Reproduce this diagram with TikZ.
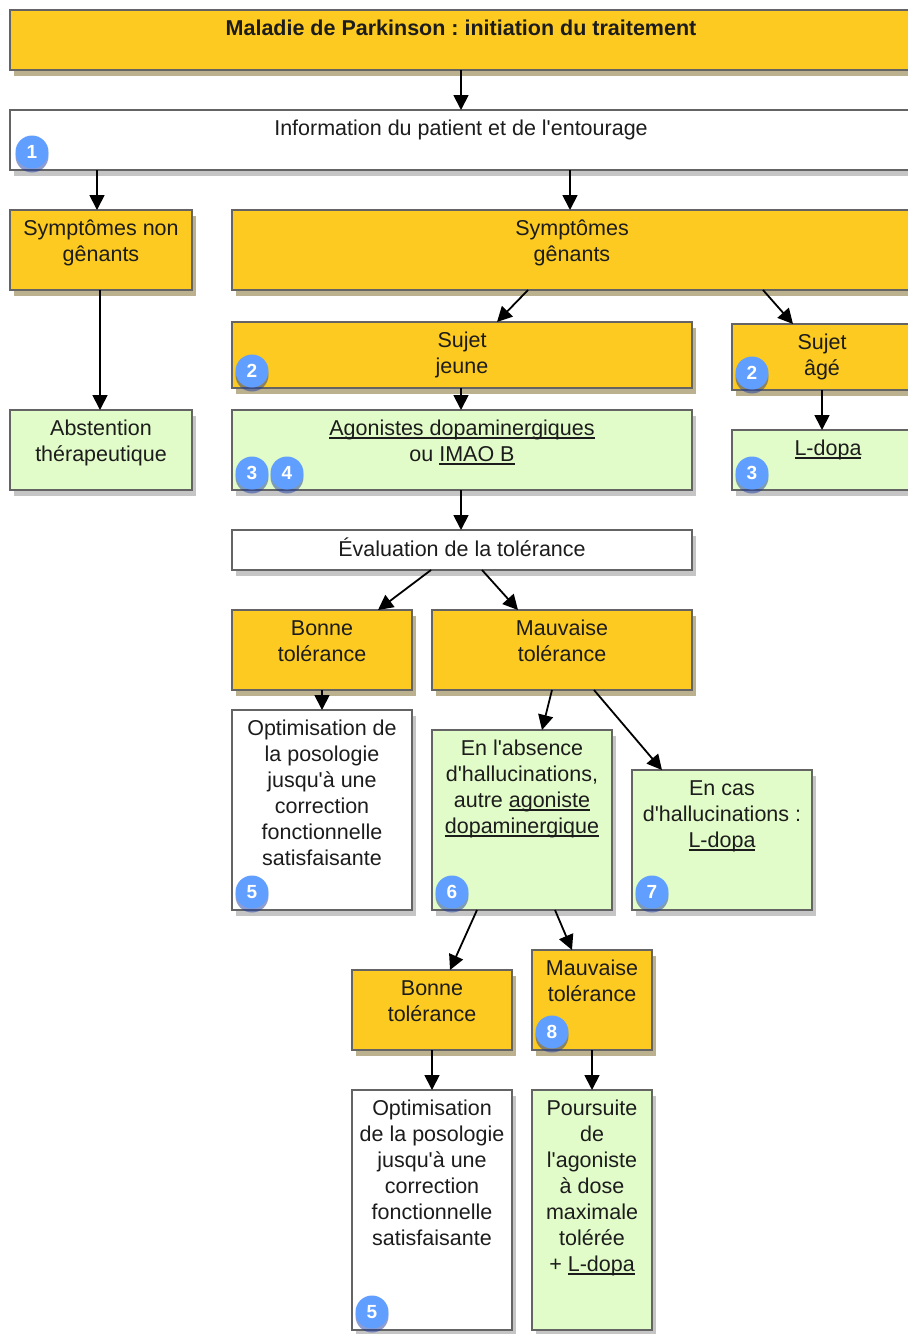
\documentclass[tikz,border=0pt]{standalone}
\usepackage{fontspec}
\setmainfont{Liberation Sans}
\newfontfamily\lsans{Liberation Sans}
\usetikzlibrary{arrows.meta,shadows}
\frenchspacing
\definecolor{yelc}{RGB}{252,202,32}
\definecolor{grnc}{RGB}{225,252,200}
\definecolor{bordc}{RGB}{100,100,100}
\definecolor{txtc}{RGB}{28,28,28}
\definecolor{badgec}{RGB}{96,158,255}
\definecolor{yshad}{RGB}{120,100,30}
\definecolor{gshad}{RGB}{110,110,110}
\definecolor{bshad}{RGB}{30,60,160}
\newcommand\ulnk[1]{\setbox0=\hbox{#1}\rlap{\rule[-3pt]{\wd0}{1.3pt}}\box0}
\tikzset{
  base/.style={draw=bordc, line width=1.8pt, anchor=north west, inner sep=0pt, outer sep=0pt},
  ybox/.style={base, fill=yelc, drop shadow={shadow xshift=4pt, shadow yshift=-6pt, opacity=0.5, fill=yshad}},
  gbox/.style={base, fill=grnc, drop shadow={shadow xshift=4pt, shadow yshift=-6pt, opacity=0.4, fill=gshad}},
  wbox/.style={base, fill=white, drop shadow={shadow xshift=4pt, shadow yshift=-6pt, opacity=0.4, fill=gshad}},
  lab/.style={anchor=north, yshift=-7.3pt, inner sep=0pt, align=center, text=txtc, font=\lsans\fontsize{21.5}{26}\selectfont\frenchspacing},
  badge/.style={circle, fill=badgec, text=white, inner sep=0pt, minimum size=33pt, font=\lsans\fontsize{19}{22}\selectfont\bfseries, drop shadow={shadow xshift=0pt, shadow yshift=-4pt, opacity=0.5, fill=bshad}},
  arr/.style={line width=1.8pt, draw=black, -{Triangle[width=15pt,length=15pt]}}
}
\begin{document}
\begin{tikzpicture}[x=1pt,y=-1pt]
\path[use as bounding box] (0,0) rectangle (908,1334);
\fill[white] (0,0) rectangle (908,1334);
\clip (0,0) rectangle (908,1334);

% boxes
\node[ybox, minimum width=902, minimum height=60, label={[lab]north:{\strut\textbf{Maladie de Parkinson : initiation du traitement}}}] (title) at (10,10) {};
\node[wbox, minimum width=902, minimum height=60, label={[lab]north:{\strut Information du patient et de l'entourage}}] (info) at (10,110) {};
\node[ybox, minimum width=182, minimum height=80, label={[lab]north:{\strut Symptômes non\\gênants}}] (sng) at (10,210) {};
\node[ybox, minimum width=680, minimum height=80, label={[lab]north:{\strut Symptômes\\gênants}}] (sg) at (232,210) {};
\node[gbox, minimum width=182, minimum height=80, label={[lab]north:{\strut Abstention\\thérapeutique}}] (abst) at (10,410) {};
\node[ybox, minimum width=460, minimum height=66, label={[lab]north:{\strut Sujet\\jeune}}] (sj) at (232,322) {};
\node[ybox, minimum width=180, minimum height=66, label={[lab]north:{\strut Sujet\\âgé}}] (sa) at (732,324) {};
\node[gbox, minimum width=460, minimum height=80, label={[lab]north:{\strut\ulnk{Agonistes dopaminergiques}\\ou \ulnk{IMAO B}}}] (ago) at (232,410) {};
\node[gbox, minimum width=192, minimum height=60, label={[lab]north:{\strut\ulnk{L-dopa}}}] (ld) at (732,430) {};
\node[wbox, minimum width=460, minimum height=40, label={[lab]north:{\strut Évaluation de la tolérance}}] (eval) at (232,530) {};
\node[ybox, minimum width=180, minimum height=80, label={[lab]north:{\strut Bonne\\tolérance}}] (bt1) at (232,610) {};
\node[ybox, minimum width=260, minimum height=80, label={[lab]north:{\strut Mauvaise\\tolérance}}] (mt1) at (432,610) {};
\node[wbox, minimum width=180, minimum height=200, label={[lab]north:{\strut Optimisation de\\la posologie\\jusqu'à une\\correction\\fonctionnelle\\satisfaisante}}] (opt1) at (232,710) {};
\node[gbox, minimum width=180, minimum height=180, label={[lab]north:{\strut En l'absence\\d'hallucinations,\\autre \ulnk{agoniste}\\\ulnk{dopaminergique}}}] (abs) at (432,730) {};
\node[gbox, minimum width=180, minimum height=140, label={[lab]north:{\strut En cas\\d'hallucinations :\\\ulnk{L-dopa}}}] (cas) at (632,770) {};
\node[ybox, minimum width=160, minimum height=80, label={[lab]north:{\strut Bonne\\tolérance}}] (bt2) at (352,970) {};
\node[ybox, minimum width=120, minimum height=100, label={[lab]north:{\strut Mauvaise\\tolérance}}] (mt2) at (532,950) {};
\node[wbox, minimum width=160, minimum height=240, label={[lab]north:{\strut Optimisation\\de la posologie\\jusqu'à une\\correction\\fonctionnelle\\satisfaisante}}] (opt2) at (352,1090) {};
\node[gbox, minimum width=120, minimum height=240, label={[lab]north:{\strut Poursuite\\de\\l'agoniste\\à dose\\maximale\\tolérée\\+ \ulnk{L-dopa}}}] (pours) at (532,1090) {};

% badges
\node[badge] (b1) at ([xshift=22pt,yshift=18pt]info.south west) {1};
\node[badge] (b2a) at ([xshift=20pt,yshift=17pt]sj.south west) {2};
\node[badge] (b2b) at ([xshift=20pt,yshift=17pt]sa.south west) {2};
\node[badge] (b3a) at ([xshift=20pt,yshift=17pt]ago.south west) {3};
\node[badge] (b4) at ([xshift=55pt,yshift=17pt]ago.south west) {4};
\node[badge] (b3b) at ([xshift=20pt,yshift=17pt]ld.south west) {3};
\node[badge] (b5a) at ([xshift=20pt,yshift=18pt]opt1.south west) {5};
\node[badge] (b6) at ([xshift=20pt,yshift=18pt]abs.south west) {6};
\node[badge] (b7) at ([xshift=20pt,yshift=18pt]cas.south west) {7};
\node[badge] (b8) at ([xshift=20pt,yshift=18pt]mt2.south west) {8};
\node[badge] (b5b) at ([xshift=20pt,yshift=18pt]opt2.south west) {5};

% arrows
\draw[arr] ([xshift=451pt]title.south west) -- ([xshift=451pt]info.north west);
\draw[arr] ([xshift=87pt]info.south west) -- ([xshift=87pt]sng.north west);
\draw[arr] ([xshift=560pt]info.south west) -- ([xshift=338pt]sg.north west);
\draw[arr] ([xshift=90pt]sng.south west) -- ([xshift=90pt]abst.north west);
\draw[arr] ([xshift=296pt]sg.south west) -- ([xshift=265pt]sj.north west);
\draw[arr] ([xshift=531pt]sg.south west) -- ([xshift=61pt]sa.north west);
\draw[arr] ([xshift=229pt]sj.south west) -- ([xshift=229pt]ago.north west);
\draw[arr] ([xshift=90pt]sa.south west) -- ([xshift=90pt]ld.north west);
\draw[arr] ([xshift=229pt]ago.south west) -- ([xshift=229pt]eval.north west);
\draw[arr] ([xshift=199pt]eval.south west) -- ([xshift=146pt]bt1.north west);
\draw[arr] ([xshift=250pt]eval.south west) -- ([xshift=86pt]mt1.north west);
\draw[arr] ([xshift=90pt]bt1.south west) -- ([xshift=90pt]opt1.north west);
\draw[arr] ([xshift=120pt]mt1.south west) -- ([xshift=110pt]abs.north west);
\draw[arr] ([xshift=162pt]mt1.south west) -- ([xshift=30pt]cas.north west);
\draw[arr] ([xshift=45pt]abs.south west) -- ([xshift=98pt]bt2.north west);
\draw[arr] ([xshift=123pt]abs.south west) -- ([xshift=40pt]mt2.north west);
\draw[arr] ([xshift=80pt]bt2.south west) -- ([xshift=80pt]opt2.north west);
\draw[arr] ([xshift=60pt]mt2.south west) -- ([xshift=60pt]pours.north west);
\end{tikzpicture}
\end{document}
